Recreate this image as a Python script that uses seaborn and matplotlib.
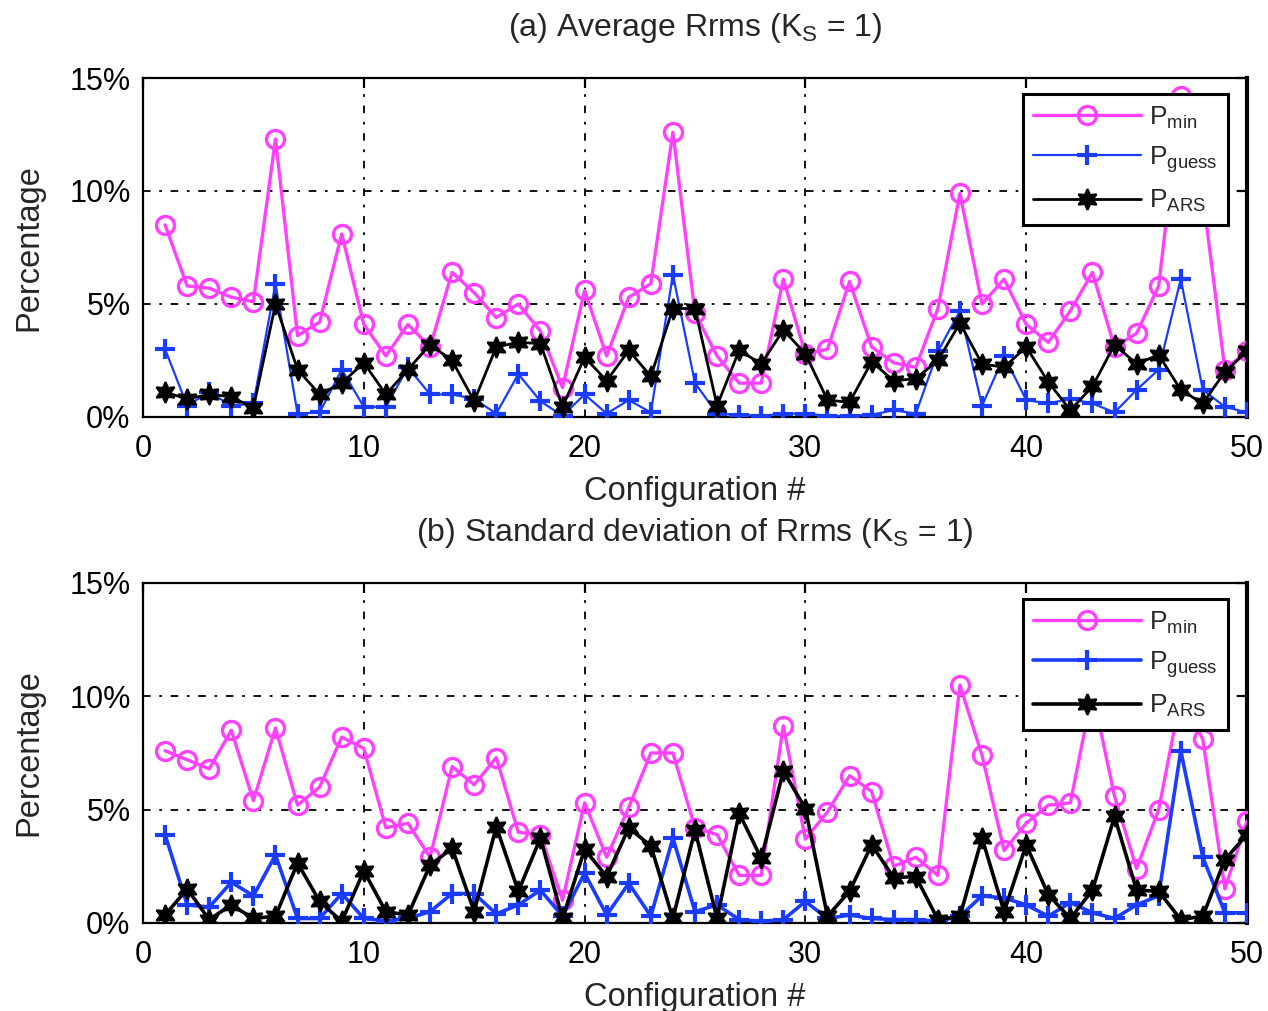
import numpy as np
import pandas as pd
import matplotlib
matplotlib.use("Agg")
import matplotlib.pyplot as plt
import seaborn as sns
from matplotlib.ticker import FuncFormatter, MultipleLocator

# Configuration index
config = np.arange(1, 51)

# (a) Average Rrms, percent
avg_pmin = [8.5, 5.8, 5.7, 5.3, 5.1, 12.3, 3.6, 4.2, 8.1, 4.1,
            2.7, 4.1, 3.1, 6.4, 5.5, 4.4, 5.0, 3.8, 1.3, 5.6,
            2.7, 5.3, 5.9, 12.6, 4.6, 2.7, 1.5, 1.5, 6.1, 2.8,
            3.0, 6.0, 3.1, 2.4, 2.2, 4.8, 9.9, 5.0, 6.1, 4.1,
            3.3, 4.7, 6.4, 3.1, 3.7, 5.8, 14.2, 9.8, 2.1, 2.9]
avg_pguess = [3.0, 0.5, 1.1, 0.5, 0.6, 5.9, 0.15, 0.2, 2.1, 0.45,
              0.45, 2.2, 1.0, 1.0, 0.8, 0.15, 1.9, 0.7, 0.05, 1.0,
              0.15, 0.75, 0.2, 6.3, 1.5, 0.15, 0.1, 0.05, 0.15, 0.15,
              0.05, 0.05, 0.1, 0.3, 0.15, 2.9, 4.7, 0.5, 2.7, 0.75,
              0.6, 0.8, 0.6, 0.2, 1.2, 2.1, 6.1, 1.2, 0.45, 0.2]
avg_pars = [1.1, 0.8, 1.0, 0.9, 0.4, 5.0, 2.1, 1.0, 1.5, 2.4,
            1.0, 2.1, 3.2, 2.5, 0.7, 3.1, 3.3, 3.25, 0.45, 2.65,
            1.6, 2.95, 1.8, 4.8, 4.8, 0.5, 2.95, 2.35, 3.85, 2.8,
            0.75, 0.65, 2.45, 1.6, 1.7, 2.5, 4.15, 2.35, 2.2, 3.1,
            1.55, 0.3, 1.35, 3.2, 2.35, 2.75, 1.2, 0.6, 2.0, 2.9]

# (b) Standard deviation of Rrms, percent
std_pmin = [7.6, 7.2, 6.8, 8.5, 5.4, 8.6, 5.2, 6.0, 8.2, 7.7,
            4.2, 4.4, 2.9, 6.9, 6.1, 7.3, 4.0, 3.9, 1.0, 5.3,
            2.9, 5.1, 7.5, 7.5, 4.2, 3.9, 2.1, 2.1, 8.7, 3.7,
            4.9, 6.5, 5.8, 2.5, 2.9, 2.1, 10.5, 7.4, 3.2, 4.4,
            5.2, 5.3, 10.2, 5.6, 2.4, 5.0, 10.0, 8.1, 1.5, 4.5]
std_pguess = [3.9, 0.8, 0.7, 1.8, 1.2, 3.0, 0.2, 0.2, 1.3, 0.2,
              0.1, 0.2, 0.5, 1.3, 1.3, 0.4, 0.8, 1.45, 0.3, 2.2,
              0.35, 1.75, 0.3, 3.75, 0.5, 0.8, 0.15, 0.07, 0.15, 0.95,
              0.2, 0.35, 0.2, 0.15, 0.15, 0.07, 0.3, 1.2, 1.1, 0.8,
              0.3, 0.9, 0.45, 0.2, 0.8, 1.2, 7.6, 2.9, 0.45, 0.45]
std_pars = [0.35, 1.5, 0.15, 0.8, 0.2, 0.3, 2.65, 0.95, 0.07, 2.3,
            0.5, 0.35, 2.55, 3.3, 0.5, 4.25, 1.4, 3.75, 0.2, 3.25,
            2.05, 4.2, 3.4, 0.2, 4.1, 0.2, 4.85, 2.85, 6.7, 5.05,
            0.3, 1.4, 3.45, 2.0, 2.05, 0.15, 0.3, 3.75, 0.5, 3.45,
            1.25, 0.2, 1.45, 4.7, 1.45, 1.4, 0.15, 0.3, 2.8, 3.9]

titles = ["(a) Average Rrms (K$_S$ = 1)",
          "(b) Standard deviation of Rrms (K$_S$ = 1)"]
legend_labels = ["P$_{min}$", "P$_{guess}$", "P$_{ARS}$"]

MAGENTA = "#ff40ff"
BLUE = "#1a3cff"
BLACK = "#000000"

sns.set_style("white")
plt.rcParams["font.family"] = ["Liberation Sans", "DejaVu Sans"]
plt.rcParams["mathtext.default"] = "regular"

fig = plt.figure(figsize=(12.68, 10.11), dpi=100)
W, H = 1268, 1011
ax_a = fig.add_axes([143 / W, 1 - 417 / H, 1104 / W, 339 / H])
ax_b = fig.add_axes([143 / W, 1 - 923 / H, 1104 / W, 340 / H])

grid_style = (0, (4.2, 4.8, 1.5, 4.8))


def draw_panel(ax, pmin, pguess, pars, title, guess_lw, ars_lw):
    df = pd.DataFrame({"config": config, "pmin": pmin,
                       "pguess": pguess, "pars": pars})
    sns.lineplot(data=df, x="config", y="pmin", ax=ax, errorbar=None,
                 color=MAGENTA, linewidth=2.4, marker="o", markersize=13,
                 markerfacecolor="none", markeredgecolor=MAGENTA,
                 markeredgewidth=2.4, label=legend_labels[0], zorder=3)
    sns.lineplot(data=df, x="config", y="pguess", ax=ax, errorbar=None,
                 color=BLUE, linewidth=guess_lw, marker="+", markersize=15,
                 markeredgecolor=BLUE, markeredgewidth=3.0,
                 label=legend_labels[1], zorder=4)
    sns.lineplot(data=df, x="config", y="pars", ax=ax, errorbar=None,
                 color=BLACK, linewidth=ars_lw, marker=(6, 1, 0),
                 markersize=15, markerfacecolor=BLACK, markeredgecolor=BLACK,
                 markeredgewidth=1.5, label=legend_labels[2], zorder=5)

    ax.set_xlim(0, 50)
    ax.set_ylim(0, 15)
    ax.xaxis.set_major_locator(MultipleLocator(10))
    ax.yaxis.set_major_locator(MultipleLocator(5))
    ax.yaxis.set_major_formatter(FuncFormatter(lambda v, p: f"{v:.0f}%"))
    ax.grid(True, color="black", linestyle=grid_style, linewidth=1.3)
    ax.set_axisbelow(True)
    ax.tick_params(direction="in", top=True, right=True, length=7,
                   width=1.6, labelsize=22, pad=9, colors="black")
    ax.tick_params(axis="x", pad=12)
    for side, sp in ax.spines.items():
        sp.set_visible(True)
        sp.set_color("black")
        sp.set_linewidth(1.6)
    ax.spines["right"].set_linewidth(3.0)
    ax.set_xlabel("Configuration #", fontsize=23.5, labelpad=9)
    ax.set_ylabel("Percentage", fontsize=23.5, labelpad=18)
    ax.set_title(title, fontsize=23, pad=30)

    leg = ax.legend(loc="upper right", bbox_to_anchor=(0.983, 0.953),
                    borderaxespad=0, fontsize=19, handlelength=4.1,
                    handletextpad=0.3, labelspacing=0.5, borderpad=0.4,
                    fancybox=False, framealpha=1, edgecolor="black")
    leg.get_frame().set_linewidth(2.2)
    leg.set_zorder(10)


draw_panel(ax_a, avg_pmin, avg_pguess, avg_pars, titles[0], 1.6, 2.0)
draw_panel(ax_b, std_pmin, std_pguess, std_pars, titles[1], 2.6, 2.6)

fig.savefig("out.png", dpi=100)
